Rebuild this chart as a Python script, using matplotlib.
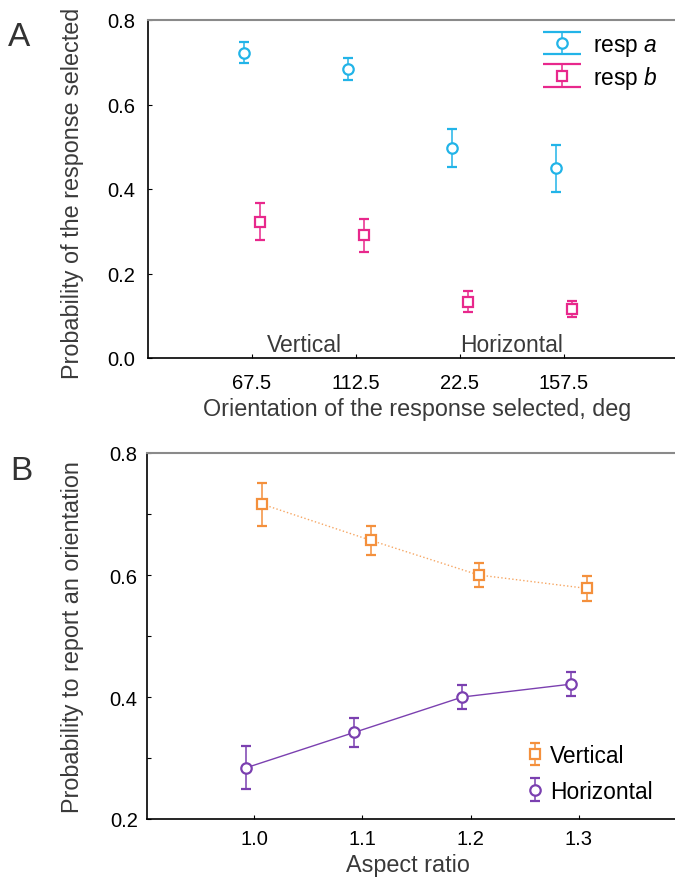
import matplotlib
matplotlib.use("Agg")
import matplotlib.pyplot as plt
import numpy as np
from matplotlib.container import ErrorbarContainer
from matplotlib.legend_handler import HandlerErrorbar

plt.rcParams['font.family'] = ['Liberation Sans', 'DejaVu Sans']
plt.rcParams['mathtext.fontset'] = 'custom'
plt.rcParams['mathtext.rm'] = 'Liberation Sans'
plt.rcParams['mathtext.it'] = 'Liberation Sans:italic'

# panel A data
orient_labels = ['67.5', '112.5', '22.5', '157.5']
resp_a = [0.723, 0.684, 0.497, 0.449]
resp_a_err = [0.025, 0.027, 0.044, 0.055]
resp_b = [0.323, 0.290, 0.133, 0.115]
resp_b_err = [0.043, 0.038, 0.025, 0.019]

# panel B data
aspect = [1.0, 1.1, 1.2, 1.3]
vert = [0.716, 0.657, 0.600, 0.578]
vert_err = [0.035, 0.024, 0.019, 0.020]
horiz = [0.284, 0.342, 0.400, 0.421]
horiz_err = [0.035, 0.024, 0.019, 0.020]

c_a = '#22B4E8'
c_b = '#E8288C'
c_v = '#F4903C'
c_h = '#7B40B0'
lab_col = '#3a3a3a'
fs_lab = 16.8
fs_tick = 14.5

fig = plt.figure(figsize=(6.75, 8.79), dpi=100)


def style_axes(ax):
    ax.spines['right'].set_visible(False)
    ax.spines['top'].set_color('#8a8a8a')
    ax.spines['top'].set_linewidth(1.5)
    ax.spines['left'].set_linewidth(1.2)
    ax.spines['bottom'].set_linewidth(1.2)
    ax.tick_params(direction='in', length=3, width=0.8, labelsize=fs_tick)


# ---------- A ----------
axA = fig.add_axes([148 / 675, 1 - 359 / 879, 1 - 148 / 675, 338 / 879])
style_axes(axA)
x = np.arange(len(orient_labels))
kw = dict(markersize=7.5, markeredgewidth=1.6, markerfacecolor='white',
          capsize=3.8, elinewidth=1.1, capthick=1.1, linestyle='none')
axA.errorbar(x - 0.075, resp_a, yerr=resp_a_err, marker='o', color=c_a, **kw)
axA.errorbar(x + 0.075, resp_b, yerr=resp_b_err, marker='s', color=c_b, **kw)

# legend proxies with wide caps
la = axA.errorbar([np.nan], [np.nan], yerr=[np.nan], marker='o', color=c_a,
                  markersize=7.5, markeredgewidth=1.6, markerfacecolor='white',
                  capsize=14, elinewidth=1.1, capthick=1.1, linestyle='none',
                  label='resp $a$')
lb = axA.errorbar([np.nan], [np.nan], yerr=[np.nan], marker='s', color=c_b,
                  markersize=7.5, markeredgewidth=1.6, markerfacecolor='white',
                  capsize=14, elinewidth=1.1, capthick=1.1, linestyle='none',
                  label='resp $b$')
axA.legend(handles=[la, lb], loc='upper left',
           bbox_to_anchor=(542 / 675, 1 - 34 / 879), bbox_transform=fig.transFigure,
           frameon=False, fontsize=16.4, borderpad=0, borderaxespad=0,
           handlelength=1.75, handletextpad=0.5, labelspacing=0.25, numpoints=1,
           handler_map={ErrorbarContainer: HandlerErrorbar(yerr_size=0.5)})

axA.set_xlim(-1.0, 4.07)
axA.set_ylim(0, 0.8)
axA.set_xticks(x)
axA.set_xticklabels(orient_labels)
axA.set_yticks([0.0, 0.2, 0.4, 0.6, 0.8])
axA.set_yticklabels(['0.0', '0.2', '0.4', '0.6', '0.8'])
axA.tick_params(axis='x', pad=11)
axA.tick_params(axis='y', pad=9)
axA.text(0.5, 0.033, 'Vertical', ha='center', va='center', fontsize=16.5, color=lab_col)
axA.text(2.5, 0.033, 'Horizontal', ha='center', va='center', fontsize=16.5, color=lab_col)

# ---------- B ----------
axB = fig.add_axes([146.7 / 675, 1 - 820 / 879, 1 - 146.7 / 675, 366 / 879])
style_axes(axB)
xa = np.array(aspect)
axB.plot(xa + 0.0075, vert, linestyle=':', color=c_v, linewidth=1.0, alpha=0.8)
axB.plot(xa - 0.0075, horiz, linestyle='-', color=c_h, linewidth=1.0)
hv = axB.errorbar(xa + 0.0075, vert, yerr=vert_err, marker='s', color=c_v,
                  label='Vertical', **kw)
hh = axB.errorbar(xa - 0.0075, horiz, yerr=horiz_err, marker='o', color=c_h,
                  label='Horizontal', **kw)
axB.legend(handles=[hv, hh], loc='upper left',
           bbox_to_anchor=(527 / 675, 1 - 745 / 879), bbox_transform=fig.transFigure,
           frameon=False, fontsize=16.4, borderpad=0, borderaxespad=0,
           handlelength=0.7, handletextpad=0.3, labelspacing=0.55, numpoints=1,
           handler_map={ErrorbarContainer: HandlerErrorbar(yerr_size=0.5)})

axB.set_xlim(0.9005, 1.389)
axB.set_ylim(0.2, 0.8)
axB.set_xticks(aspect)
axB.set_xticklabels(['1.0', '1.1', '1.2', '1.3'])
axB.set_yticks([0.2, 0.3, 0.4, 0.5, 0.6, 0.7, 0.8])
axB.set_yticklabels(['0.2', '', '0.4', '', '0.6', '', '0.8'])
axB.tick_params(axis='x', pad=7)
axB.tick_params(axis='y', pad=6.5)

# axis titles placed in figure pixels
H = 879
fig.text(417 / 675, 1 - 410 / H, 'Orientation of the response selected, deg',
         fontsize=fs_lab, color=lab_col, ha='center', va='center')
fig.text(73 / 675, 1 - 193 / H, 'Probability of the response selected',
         fontsize=fs_lab, color=lab_col, ha='center', va='center', rotation=90)
fig.text(408 / 675, 1 - 866 / H, 'Aspect ratio',
         fontsize=fs_lab, color=lab_col, ha='center', va='center')
fig.text(73 / 675, 1 - 637 / H, 'Probability to report an orientation',
         fontsize=fs_lab, color=lab_col, ha='center', va='center', rotation=90)

fig.text(19 / 675, 1 - 38 / H, 'A', fontsize=24, color='#333333', ha='center', va='center')
fig.text(21 / 675, 1 - 472 / H, 'B', fontsize=24, color='#333333', ha='center', va='center')

fig.savefig('out.png', dpi=100)
